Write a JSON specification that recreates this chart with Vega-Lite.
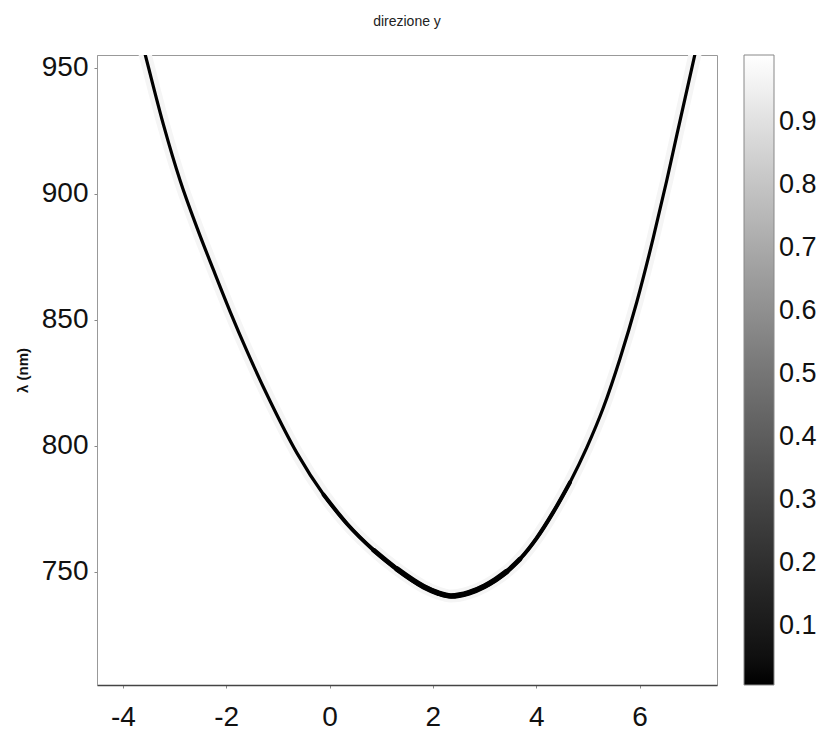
{
  "$schema": "https://vega.github.io/schema/vega-lite/v6.json",
  "autosize": {"type": "none"},
  "padding": {"left": 97, "top": 55, "right": 100, "bottom": 47},
  "width": 620,
  "height": 630,
  "background": "white",
  "title": {
    "text": "direzione y",
    "font": "Liberation Sans",
    "fontSize": 14,
    "fontWeight": "normal",
    "color": "#222",
    "anchor": "middle",
    "frame": "group",
    "baseline": "alphabetic",
    "offset": 14
  },
  "config": {
    "view": {"stroke": "#999", "strokeWidth": 1},
    "font": "Liberation Sans"
  },
  "data": {
    "values": [
      {"x": -3.66, "lambda": 962.5, "I": 0},
      {"x": -3.565, "lambda": 955, "I": 0},
      {"x": -3.209, "lambda": 927, "I": 0},
      {"x": -2.888, "lambda": 905, "I": 0},
      {"x": -2.565, "lambda": 886.5, "I": 0},
      {"x": -2.242, "lambda": 869.5, "I": 0},
      {"x": -1.92, "lambda": 853, "I": 0},
      {"x": -1.597, "lambda": 837.5, "I": 0},
      {"x": -1.146, "lambda": 817.5, "I": 0},
      {"x": -0.629, "lambda": 797, "I": 0},
      {"x": -0.113, "lambda": 780.5, "I": 0},
      {"x": 0.338, "lambda": 769, "I": 0},
      {"x": 0.855, "lambda": 758.5, "I": 0},
      {"x": 1.306, "lambda": 751, "I": 0},
      {"x": 1.823, "lambda": 744, "I": 0},
      {"x": 2.1, "lambda": 741.5, "I": 0},
      {"x": 2.35, "lambda": 740.3, "I": 0},
      {"x": 2.7, "lambda": 741.6, "I": 0},
      {"x": 3.0, "lambda": 744.2, "I": 0},
      {"x": 3.2, "lambda": 746.6, "I": 0},
      {"x": 3.429, "lambda": 750.0, "I": 0},
      {"x": 3.687, "lambda": 755.0, "I": 0},
      {"x": 4.01, "lambda": 763.3, "I": 0},
      {"x": 4.331, "lambda": 773.6, "I": 0},
      {"x": 4.654, "lambda": 785.4, "I": 0},
      {"x": 4.977, "lambda": 799.1, "I": 0},
      {"x": 5.299, "lambda": 815, "I": 0},
      {"x": 5.622, "lambda": 834.5, "I": 0},
      {"x": 5.945, "lambda": 856.8, "I": 0},
      {"x": 6.267, "lambda": 882.5, "I": 0},
      {"x": 6.525, "lambda": 905, "I": 0},
      {"x": 6.725, "lambda": 923.5, "I": 0},
      {"x": 7.07, "lambda": 955, "I": 0},
      {"x": 7.14, "lambda": 961.5, "I": 0}
    ]
  },
  "encoding": {
    "x": {
      "field": "x",
      "type": "quantitative",
      "scale": {"domain": [-4.5, 7.5], "nice": false, "zero": false},
      "axis": {
        "title": null,
        "values": [-4, -2, 0, 2, 4, 6],
        "labelExpr": "'' + datum.value",
        "grid": false,
        "labelFontSize": 28,
        "labelColor": "#111",
        "labelPadding": 15,
        "tickSize": 3,
        "tickColor": "#888",
        "domainColor": "#444",
        "domainWidth": 1.5
      }
    },
    "y": {
      "field": "lambda",
      "type": "quantitative",
      "scale": {"domain": [705, 955], "nice": false, "zero": false},
      "axis": {
        "title": "λ (nm)",
        "titleFontSize": 15,
        "titleFontWeight": "bold",
        "titleColor": "#111",
        "titleX": -75,
        "titleBaseline": "middle",
        "values": [750, 800, 850, 900, 950],
        "grid": false,
        "labelFontSize": 28,
        "labelColor": "#111",
        "labelPadding": 6,
        "tickSize": 3,
        "tickColor": "#888",
        "domainColor": "#999"
      }
    }
  },
  "layer": [
    {
      "mark": {"type": "line", "clip": true, "color": "#f5f5f5", "strokeWidth": 13, "interpolate": "monotone"}
    },
    {
      "mark": {"type": "line", "clip": true, "strokeWidth": 3.2, "interpolate": "monotone"},
      "encoding": {
        "color": {
          "field": "I",
          "type": "quantitative",
          "scale": {"domain": [0.007, 1.007], "range": ["#000000", "#ffffff"]},
          "legend": {
            "orient": "none",
            "legendX": 647,
            "legendY": 0,
            "direction": "vertical",
            "title": null,
            "gradientLength": 630,
            "gradientThickness": 30,
            "gradientStrokeColor": "#888",
            "gradientStrokeWidth": 1,
            "values": [0.1, 0.2, 0.3, 0.4, 0.5, 0.6, 0.7, 0.8, 0.9],
            "labelFontSize": 27,
            "labelColor": "#111",
            "labelOffset": 5,
            "labelOverlap": false,
            "padding": 0
          }
        }
      }
    },
    {
      "transform": [{"filter": "datum.x >= -0.2 && datum.x <= 4.7"}],
      "mark": {"type": "line", "clip": true, "color": "#000", "strokeWidth": 4, "strokeCap": "round", "interpolate": "monotone"}
    },
    {
      "transform": [{"filter": "datum.x >= 0.8 && datum.x <= 4.0"}],
      "mark": {"type": "line", "clip": true, "color": "#000", "strokeWidth": 4.8, "strokeCap": "round", "interpolate": "monotone"}
    },
    {
      "transform": [{"filter": "datum.x >= 1.3 && datum.x <= 3.5"}],
      "mark": {"type": "line", "clip": true, "color": "#000", "strokeWidth": 5.6, "strokeCap": "round", "interpolate": "monotone"}
    }
  ]
}
